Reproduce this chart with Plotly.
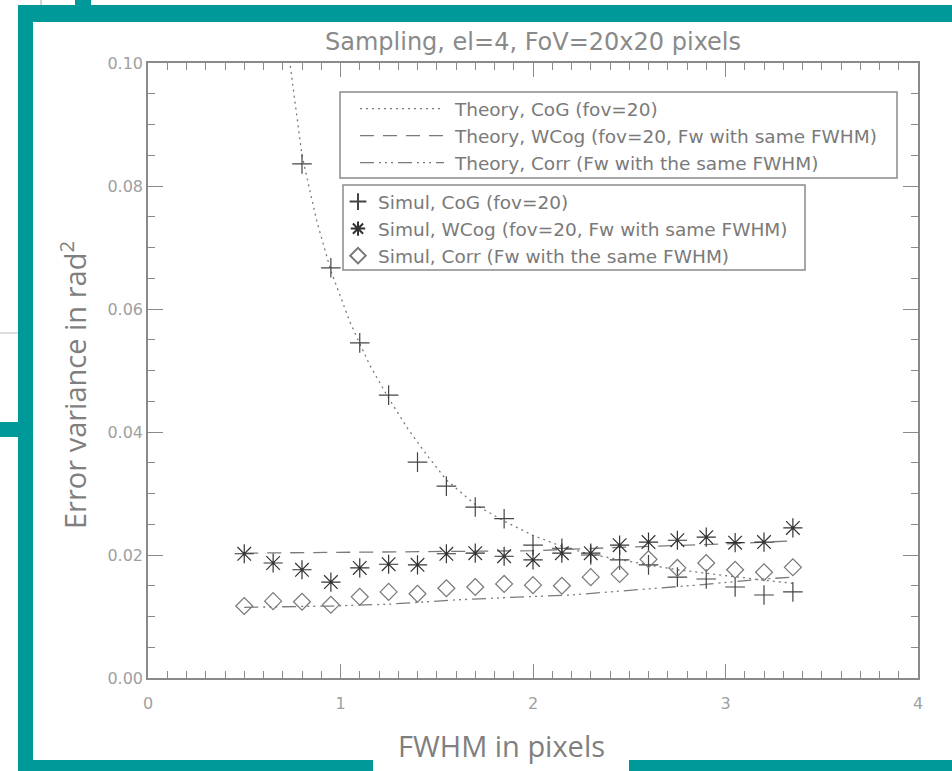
import plotly.graph_objects as go

# ---------------- data ----------------
fwhm_sim = [0.5, 0.65, 0.8, 0.95, 1.1, 1.25, 1.4, 1.55, 1.7, 1.85,
            2.0, 2.15, 2.3, 2.45, 2.6, 2.75, 2.9, 3.05, 3.2, 3.35]

# Simul CoG: points at 0.5 and 0.65 lie above the plotted range
fwhm_sim_cog = [0.8, 0.95, 1.1, 1.25, 1.4, 1.55, 1.7, 1.85,
                2.0, 2.15, 2.3, 2.45, 2.6, 2.75, 2.9, 3.05, 3.2, 3.35]
sim_cog = [0.0836, 0.0667, 0.0545, 0.0460, 0.0351, 0.0312, 0.0278, 0.0259,
           0.0216, 0.0211, 0.0200, 0.0192, 0.0184, 0.0164, 0.0161, 0.0148, 0.0135, 0.0140]

sim_wcog = [0.0202, 0.0187, 0.0176, 0.0156, 0.0179, 0.0185, 0.0184, 0.0202, 0.0203, 0.0198,
            0.0192, 0.0203, 0.0203, 0.0216, 0.0221, 0.0224, 0.0229, 0.0220, 0.0221, 0.0244]

sim_corr = [0.0117, 0.0125, 0.0124, 0.0119, 0.0132, 0.0140, 0.0137, 0.0146, 0.0148, 0.0153,
            0.0151, 0.0150, 0.0164, 0.0169, 0.0193, 0.0179, 0.0187, 0.0176, 0.0172, 0.0180]

fwhm_th_cog = [0.735, 0.80, 0.875, 0.95, 1.05, 1.15, 1.25, 1.35, 1.45, 1.55, 1.70,
               1.85, 2.0, 2.15, 2.3, 2.45, 2.6, 2.75, 2.9, 3.05, 3.2, 3.35]
th_cog = [0.1005, 0.0850, 0.0745, 0.0662, 0.0578, 0.0510, 0.0455, 0.0405, 0.0362, 0.0322, 0.0282,
          0.0255, 0.0232, 0.0214, 0.0201, 0.0192, 0.0184, 0.0176, 0.0170, 0.0164, 0.0159, 0.0154]

fwhm_th_wcog = [0.5, 1.0, 1.5, 2.0, 2.5, 3.0, 3.35]
th_wcog = [0.0203, 0.0204, 0.0205, 0.0207, 0.0213, 0.0218, 0.0223]

fwhm_th_corr = [0.5, 0.95, 1.25, 1.6, 1.95, 2.2, 2.6, 2.85, 3.2, 3.35]
th_corr = [0.0115, 0.0117, 0.0120, 0.0127, 0.0132, 0.0135, 0.0145, 0.0151, 0.0161, 0.0164]

x_ticks = [0, 1, 2, 3, 4]
y_ticks = [0.00, 0.02, 0.04, 0.06, 0.08, 0.10]
y_tick_text = ["0.00", "0.02", "0.04", "0.06", "0.08", "0.10"]

title_text = "Sampling, el=4, FoV=20x20 pixels"
x_title = "FWHM in pixels"
y_title = "Error variance in rad<sup>2</sup>"

# ---------------- layout geometry ----------------
W, H = 952, 771
L, R, T, B = 148, 918, 63, 678
TEAL = "#009999"
GREY = "#8a8a8a"
FONT = "DejaVu Sans"
LEG_FONT = 18.5
NB = "\u00a0"


def px(x):
    return (x - L) / (R - L)


def py(y):
    return (B - y) / (B - T)


fig = go.Figure()

fig.add_trace(go.Scatter(
    x=fwhm_th_cog, y=th_cog, mode="lines", name=NB + "Theory, CoG (fov=20)",
    line=dict(color="#7a7a7a", width=1.3, dash="2px,4px"), legend="legend"))
fig.add_trace(go.Scatter(
    x=fwhm_th_wcog, y=th_wcog, mode="lines", name=NB + "Theory, WCog (fov=20, Fw with same FWHM)",
    line=dict(color="#7a7a7a", width=1.3, dash="14px,9px"), legend="legend"))
fig.add_trace(go.Scatter(
    x=fwhm_th_corr, y=th_corr, mode="lines", name=NB + "Theory, Corr (Fw with the same FWHM)",
    line=dict(color="#7a7a7a", width=1.3, dash="14px,5px,2px,4px,2px,4px,2px,5px"), legend="legend"))

fig.add_trace(go.Scatter(
    x=fwhm_sim_cog, y=sim_cog, mode="markers", name="Simul, CoG (fov=20)",
    marker=dict(symbol="cross-thin-open", size=14, color="#444444",
                line=dict(color="#444444", width=1.2)),
    legend="legend2"))
fig.add_trace(go.Scatter(
    x=fwhm_sim, y=sim_wcog, mode="markers", name="Simul, WCog (fov=20, Fw with same FWHM)",
    marker=dict(symbol="asterisk-open", size=16, color="#333333",
                line=dict(color="#333333", width=1.2)),
    legend="legend2"))
fig.add_trace(go.Scatter(
    x=fwhm_sim, y=sim_corr, mode="markers", name="Simul, Corr (Fw with the same FWHM)",
    marker=dict(symbol="diamond-open", size=13, color="#777777",
                line=dict(color="#777777", width=1.2)),
    legend="legend2"))

axis_common = dict(
    showline=True, linecolor=GREY, linewidth=1.5, mirror="allticks",
    ticks="inside", tickcolor=GREY, tickwidth=1, showgrid=False, zeroline=False,
    tickfont=dict(family=FONT, size=16, color="#a0a0a0"),
)

fig.update_layout(
    width=W, height=H,
    margin=dict(l=L, r=W - R, t=T, b=H - B),
    paper_bgcolor="white", plot_bgcolor="white",
    showlegend=True,
    xaxis=dict(range=[0, 4], tickvals=x_ticks, ticklen=14, ticklabelstandoff=10,
               minor=dict(dtick=0.1, ticklen=7, ticks="inside", tickcolor=GREY, showgrid=False),
               **axis_common),
    yaxis=dict(range=[0, 0.10], tickvals=y_ticks, ticktext=y_tick_text, ticklen=15,
               minor=dict(dtick=0.005, ticklen=7, ticks="inside", tickcolor=GREY, showgrid=False),
               **axis_common),
    legend=dict(x=px(355), y=py(90), xanchor="left", yanchor="top",
                borderwidth=0, bgcolor="rgba(0,0,0,0)",
                font=dict(family=FONT, size=LEG_FONT, color="#7a7a7a"),
                itemwidth=84, tracegroupgap=0),
    legend2=dict(x=px(338), y=py(183), xanchor="left", yanchor="top",
                 borderwidth=0, bgcolor="rgba(0,0,0,0)",
                 font=dict(family=FONT, size=LEG_FONT, color="#7a7a7a"),
                 itemwidth=30, itemsizing="constant", tracegroupgap=0),
    annotations=[
        dict(text=title_text, x=px(533), y=py(42), xref="paper", yref="paper",
             xanchor="center", yanchor="middle",
             showarrow=False, font=dict(family=FONT, size=24, color="#8a8a8a")),
        dict(text=x_title, x=px(501), y=py(745), xref="paper", yref="paper",
             xanchor="center", yanchor="middle",
             showarrow=False, font=dict(family="Open Sans", size=29, color="#7f7f7f")),
        dict(text=y_title, x=px(73), y=py(385), xref="paper", yref="paper", textangle=-90,
             xanchor="center", yanchor="middle",
             showarrow=False, font=dict(family="Open Sans", size=29, color="#7f7f7f")),
    ],
)


def rect(x0, y0, x1, y1, color=TEAL):
    return dict(type="rect", xref="paper", yref="paper",
                x0=px(x0), x1=px(x1), y0=py(y1), y1=py(y0),
                fillcolor=color, line=dict(width=0), layer="above")


def box(x0, y0, x1, y1):
    return dict(type="rect", xref="paper", yref="paper",
                x0=px(x0), x1=px(x1), y0=py(y1), y1=py(y0),
                fillcolor="white", line=dict(color=GREY, width=1.5), layer="above")


shapes = [
    box(340, 92, 897, 178),
    box(343, 185, 805, 270),
    rect(18, 5, 952, 22),
    rect(18, 5, 33, 771),
    rect(18, 760, 373, 771),
    rect(629, 760, 952, 771),
    rect(75, 0, 91, 5),
    rect(0, 422, 18, 437),
    dict(type="line", xref="paper", yref="paper", x0=px(41), x1=px(41), y0=py(0), y1=py(5),
         line=dict(color="#aaaaaa", width=1)),
    dict(type="line", xref="paper", yref="paper", x0=px(0), x1=px(18), y0=py(333), y1=py(333),
         line=dict(color="#bbbbbb", width=1)),
]
fig.update_layout(shapes=shapes)

fig.write_html(
    "out.html",
    config={"displayModeBar": False},
    post_script="document.body.style.margin='0px';document.body.style.overflow='hidden';",
)
